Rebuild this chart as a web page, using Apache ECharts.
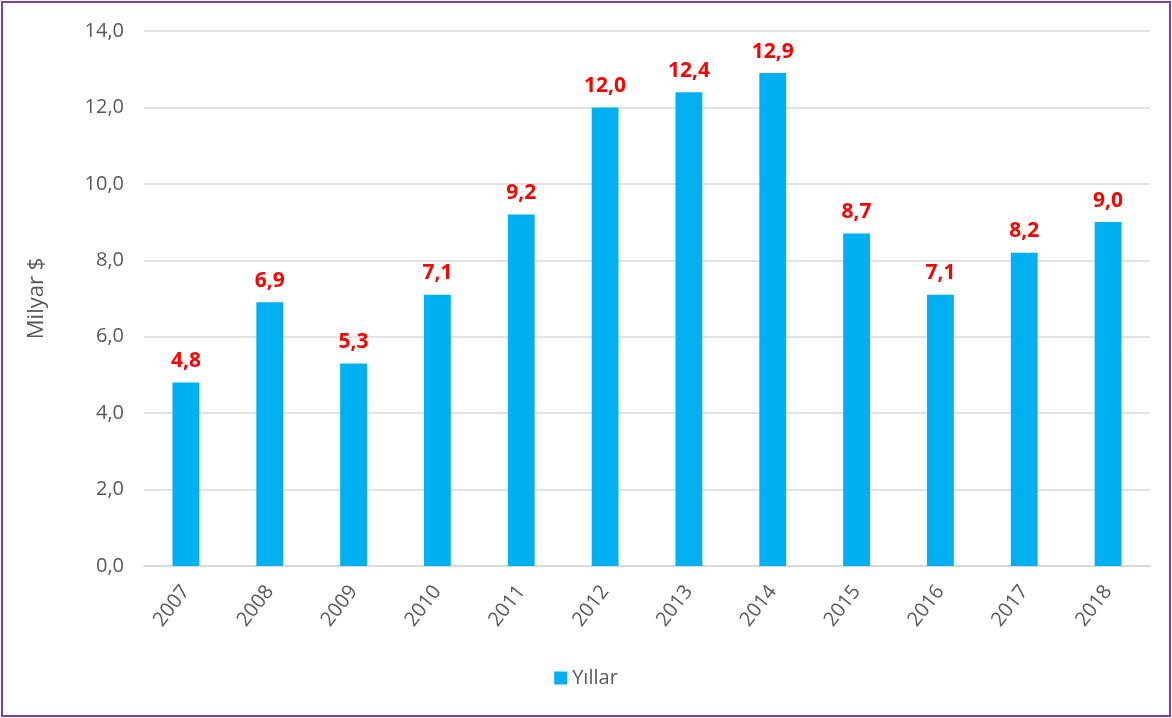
<!DOCTYPE html>
<html><head><meta charset="utf-8">
<script src="https://cdn.jsdelivr.net/npm/echarts@6/dist/echarts.min.js"></script>
<style>
html,body{margin:0;padding:0;background:#fff;}
#frame{position:absolute;left:1px;top:1px;width:1166px;height:712px;border:2px solid #7B3FB0;box-sizing:content-box;}
#c{width:1166px;height:712px;}
</style></head><body>
<div id="frame"><div id="c"></div></div>
<script>
const categories = ['2007','2008','2009','2010','2011','2012','2013','2014','2015','2016','2017','2018'];
const values = [4.8, 6.9, 5.3, 7.1, 9.2, 12.0, 12.4, 12.9, 8.7, 7.1, 8.2, 9.0];
const seriesName = 'Yıllar';
const yAxisName = 'Milyar $';

const fmt = v => Number(v).toFixed(1).replace('.', ',');
const chart = echarts.init(document.getElementById('c'), null, {renderer:'canvas'});
chart.setOption({
  animation:false,
  textStyle:{fontFamily:'Open Sans, Noto Sans, sans-serif'},
  grid:{left:141, right:19, top:28, bottom:149},
  legend:{bottom:22, left:'center', itemWidth:13, itemHeight:13, icon:'rect', itemGap:6,
    textStyle:{fontSize:20, color:'#595959'}, data:[seriesName]},
  xAxis:{type:'category', data:categories,
    axisLine:{lineStyle:{color:'#D9D9D9', width:2}},
    axisTick:{show:false},
    axisLabel:{rotate:52, fontSize:20, color:'#595959', margin:22}},
  yAxis:{type:'value', min:0, max:14, interval:2,
    name:yAxisName, nameLocation:'middle', nameGap:96, nameRotate:90,
    nameTextStyle:{fontSize:22, color:'#595959'},
    axisLabel:{formatter:fmt, fontSize:20, color:'#595959', margin:20},
    splitLine:{lineStyle:{color:'#D9D9D9', width:1.5}},
    axisLine:{show:false}, axisTick:{show:false}},
  series:[{name:seriesName, type:'bar', data:values, barWidth:'32%',
    itemStyle:{color:'#00B0F0'},
    label:{show:true, position:'top', distance:11, formatter:p=>fmt(p.value),
      color:'#FF0000', fontWeight:'bold', fontSize:21}}]
});
</script></body></html>
